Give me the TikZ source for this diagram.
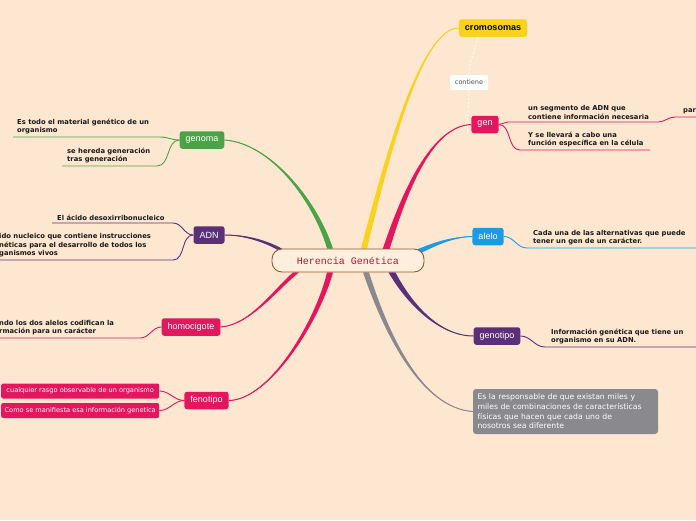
\documentclass[tikz,border=0pt]{standalone}
\usepackage{fontspec}
\setmainfont{DejaVu Sans}
\newfontfamily\arial{Liberation Sans}
\newfontfamily\courier{Liberation Mono}
\usetikzlibrary{calc,backgrounds}
\definecolor{fondo}{HTML}{FDE7D1}
\definecolor{verde}{HTML}{4CA347}
\definecolor{amarillo}{HTML}{FAD21E}
\definecolor{rosa}{HTML}{E3175D}
\definecolor{azul}{HTML}{1C9BE5}
\definecolor{morado}{HTML}{5C2F7B}
\definecolor{gris}{HTML}{8A8A8E}
\definecolor{marron}{HTML}{8C5B30}
\definecolor{rojo}{HTML}{C8102E}
\definecolor{crema}{HTML}{FDEEDD}

\begin{document}
\begin{tikzpicture}[x=1pt,y=-1pt,
		raiz/.style={draw=marron, line width=0.9pt, fill=crema, rounded corners=10pt,
			minimum width=152pt, minimum height=23pt, text=rojo,
			font=\courier\fontsize{10}{12}\selectfont},
		tema/.style={rounded corners=2.5pt, minimum height=17.5pt, inner xsep=6pt, inner ysep=0pt,
			text=white, font=\arial\fontsize{9}{11}\selectfont},
		nota/.style={anchor=south west, inner sep=0pt, align=left, text=black!90,
			font=\bfseries\fontsize{6.8}{8.8}\selectfont},
		hoja/.style={anchor=west, fill=rosa, rounded corners=2pt, minimum width=158pt,
			minimum height=15pt, inner sep=0pt, text=white, font=\fontsize{6.6}{8}\selectfont},
		caja/.style={fill=gris, rounded corners=3pt, text=white, align=left, text width=176pt,
			minimum height=45pt, inner xsep=4.5pt, font=\fontsize{7.7}{9.6}\selectfont},
		etiqueta/.style={fill=white, rounded corners=1pt, minimum width=38pt, minimum height=15pt,
			inner sep=0pt, text=black!70, font=\fontsize{6.5}{7.5}\selectfont},
		hilo/.style={line width=0.9pt},
		rel/.style={white, line width=0.8pt, dash pattern=on 2pt off 2pt},
		]
		% ── Rama con grosor decreciente: color, inicio, semiancho, c1, c2, fin ──
		\def\rama#1#2#3#4#5#6{%
			\fill[#1] ($#2+#3$) .. controls ($#4+0.7*#3$) and ($#5+0.3*#3$) .. #6
			.. controls ($#5-0.3*#3$) and ($#4-0.7*#3$) .. ($#2-#3$) -- cycle;
			\draw[#1, line width=1pt] #2 .. controls #4 and #5 .. #6;}
		\useasboundingbox (0,0) rectangle (696,520);
		
		% ===================== nodos =====================
		\node[raiz] (raiz) at (348,260.5) {Herencia Genética};
		\node[tema, fill=amarillo, text=black, font=\arial\bfseries\fontsize{9}{11}\selectfont] (cromosomas) at (493,28) {cromosomas};
		\node[etiqueta] (contiene) at (469,82.5) {contiene};
		\node[tema, fill=rosa] (gen) at (485,124.5) {gen};
		\node[tema, fill=azul] (alelo) at (488,236.5) {alelo};
		\node[tema, fill=morado] (genotipo) at (497,336) {genotipo};
		\node[caja] (caja) at (565.5,411.5) {Es la responsable de que existan miles y\\miles de combinaciones de características\\físicas que hacen que cada uno de\\nosotros sea diferente};
		\node[tema, fill=verde] (genoma) at (202,140) {genoma};
		\node[tema, fill=morado] (ADN) at (209,235) {ADN};
		\node[tema, fill=rosa] (homocigote) at (191,327) {homocigote};
		\node[tema, fill=rosa] (fenotipo) at (206.5,400.5) {fenotipo};
		\node[hoja] (rasgo) at (1,391) {cualquier rasgo observable de un organismo};
		\node[hoja] (manifiesta) at (1,410.5) {Como se manifiesta esa información genetica};
		
		% ── Textos subrayados ──
		\node[nota] (tGenoma1) at (17,134.5) {Es todo el material genético de un\\organismo};
		\node[nota] (tGenoma2) at (67,163.5) {se hereda generación\\tras generación};
		\node[nota] (tADN1) at (57,220.5) {El ácido desoxirribonucleico};
		\node[nota] (tADN2) at (-1,257.5) {ido nucleico que contiene instrucciones\\néticas para el desarrollo de todos los\\ganismos vivos};
		\node[nota] (tHomo) at (-1,335.5) {ndo los dos alelos codifican la\\rmación para un carácter};
		\node[nota] (tSegmento) at (528,119.5) {un segmento de ADN que\\contiene información necesaria};
		\node[nota] (tPara) at (683,114.5) {para};
		\node[nota] (tFuncion) at (528,147.5) {Y se llevará a cabo una\\función específica en la célula};
		\node[nota] (tAlelo) at (533,245.5) {Cada una de las alternativas que puede\\tener un gen de un carácter.};
		\node[nota] (tGenotipo) at (551,344.5) {Información genética que tiene un\\organismo en su ADN.};
		
		% ── Extremos de los subrayados ──
		\coordinate (uGenoma1a) at (160,137);  \coordinate (uGenoma1b) at (13,137);
		\coordinate (uGenoma2a) at (157,166);  \coordinate (uGenoma2b) at (62,166);
		\coordinate (uADN1a) at (173,223);     \coordinate (uADN1b) at (52,223);
		\coordinate (uADN2a) at (173,260);     \coordinate (uADN2b) at (0,260);
		\coordinate (uHomoa) at (140,338);     \coordinate (uHomob) at (0,338);
		\coordinate (uSega) at (508,122);      \coordinate (uSegb) at (658,122);
		\coordinate (uParaa) at (675,117);     \coordinate (uParab) at (696,117);
		\coordinate (uFunca) at (520,150);     \coordinate (uFuncb) at (650,150);
		\coordinate (uAleloa) at (527,248);    \coordinate (uAlelob) at (696,248);
		\coordinate (uGenotipoa) at (545,347); \coordinate (uGenotipob) at (696,347);
		
		% ── Salidas desde la raíz ──
		\coordinate (iCrom) at ($(raiz.north)+(16,0)$);
		\coordinate (iGen) at ($(raiz.north)+(38,1)$);
		\coordinate (iAlelo) at ($(raiz.north east)+(-6,3)$);
		\coordinate (iGenotipo) at ($(raiz.south)+(44,0)$);
		\coordinate (iCaja) at ($(raiz.south)+(18,0)$);
		\coordinate (iGenoma) at ($(raiz.north)+(-18,0)$);
		\coordinate (iADN) at ($(raiz.north west)+(12,3)$);
		\coordinate (iHomo) at ($(raiz.south)+(-52,0)$);
		\coordinate (iFeno) at ($(raiz.south)+(-18,0)$);
		
		% ===================== ramas (detrás de los nodos) =====================
		\begin{scope}[on background layer]
			\fill[fondo] (0,0) rectangle (696,520);
			\rama{amarillo}{(iCrom)}{(3,0)}{(385,165)}{(420,28)}{(cromosomas.west)}
			\rama{rosa}{(iGen)}{(3.5,0)}{(405,190)}{(432,126)}{(gen.west)}
			\rama{azul}{(iAlelo)}{(1,2.3)}{(435,244)}{(452,237)}{(alelo.west)}
			\rama{morado}{(iGenotipo)}{(3.5,0)}{(410,305)}{(440,336)}{(genotipo.west)}
			\rama{gris}{(iCaja)}{(3,0)}{(385,330)}{(420,408)}{(caja.west)}
			\rama{verde}{(iGenoma)}{(3,0)}{(315,200)}{(270,143)}{(genoma.east)}
			\rama{morado}{(iADN)}{(1,2.5)}{(270,243)}{(248,235)}{(ADN.east)}
			\rama{rosa}{(iHomo)}{(3,0)}{(275,290)}{(250,325)}{(homocigote.east)}
			\rama{rosa}{(iFeno)}{(3,0)}{(318,320)}{(270,400)}{(fenotipo.east)}
			
			\draw[hilo, verde] (genoma.west) to[out=180,in=0] (uGenoma1a) -- (uGenoma1b);
			\draw[hilo, verde] (genoma.west) to[out=180,in=0] (uGenoma2a) -- (uGenoma2b);
			\draw[hilo, morado] (ADN.west) to[out=180,in=0] (uADN1a) -- (uADN1b);
			\draw[hilo, morado] (ADN.west) to[out=180,in=0] (uADN2a) -- (uADN2b);
			\draw[hilo, rosa] (homocigote.west) to[out=180,in=0] (uHomoa) -- (uHomob);
			\draw[hilo, rosa] (fenotipo.west) to[out=180,in=0] (rasgo.east);
			\draw[hilo, rosa] (fenotipo.west) to[out=180,in=0] (manifiesta.east);
			\draw[hilo, rosa] (gen.east) to[out=0,in=180] (uSega) -- (uSegb) to[out=0,in=180] (uParaa) -- (uParab);
			\draw[hilo, rosa] (gen.east) to[out=0,in=180] (uFunca) -- (uFuncb);
			\draw[hilo, azul] (alelo.east) to[out=0,in=180] (uAleloa) -- (uAlelob);
			\draw[hilo, morado] (genotipo.east) to[out=0,in=180] (uGenotipoa) -- (uGenotipob);
			
			% relación cromosomas - gen
			\draw[rel] ($(cromosomas.south)+(-15,0)$) to[out=-100,in=90] (contiene.north);
			\draw[rel] (contiene.south) -- ($(gen.south west)+(-4,0)$);
		\end{scope}
		
	\end{tikzpicture}
\end{document}
